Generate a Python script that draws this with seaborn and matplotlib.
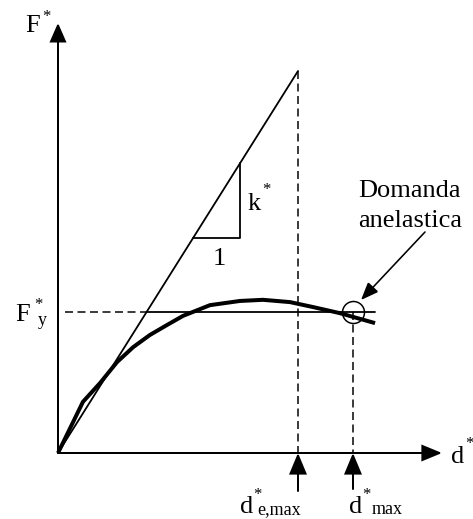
import numpy as np
import pandas as pd
import matplotlib
matplotlib.use("Agg")
import matplotlib.pyplot as plt
import seaborn as sns
from matplotlib.patches import FancyArrowPatch

# ---------------- data (d*, F*) in arbitrary units ----------------
curve_d = [0.0, 1.04, 1.75, 2.46, 3.13, 3.83, 4.54, 5.21, 6.33, 7.58, 8.54, 9.67, 10.63, 11.75, 13.21]
curve_F = [0.0, 1.34, 1.83, 2.38, 2.77, 3.09, 3.35, 3.59, 3.87, 3.98, 4.01, 3.95, 3.82, 3.66, 3.40]
k_star = 1.0          # elastic stiffness
F_y = 3.69            # yield force of bilinear system
d_e_max = 10.0        # elastic displacement demand
d_max = 12.29         # inelastic displacement demand
d_end = 13.21         # end of the bilinear plateau
tri_d0 = 5.63         # start of the slope triangle
tri_run = 1.95        # run of the slope triangle
d_dash_start = 0.3    # start of the F*y dashed guide

d_y = F_y / k_star
F_e_max = k_star * d_e_max

# ---------------- figure / pixel mapping ----------------
W, H = 473, 519
OX, OY = 58, 453      # origin in pixels
SX, SY = 24.0, 38.2   # pixels per unit

sns.set_theme(style="white")
plt.rcParams["font.family"] = ["Liberation Serif", "DejaVu Serif"]
plt.rcParams["lines.scale_dashes"] = False

fig = plt.figure(figsize=(W / 100, H / 100), dpi=100)
ax = fig.add_axes([0, 0, 1, 1])
ax.set_xlim(-OX / SX, (W - OX) / SX)
ax.set_ylim((OY - H) / SY, OY / SY)
ax.axis("off")


def P(px, py):
    """layout position given in pixels -> axes data coords"""
    return ((px - OX) / SX, (OY - py) / SY)


PT = 0.72  # points per pixel
dash = (0, (8 * PT, 4.5 * PT))

# capacity curve (thick)
sns.lineplot(x=curve_d, y=curve_F, sort=False, estimator=None, color="black",
             linewidth=4 * PT, ax=ax, solid_joinstyle="round", solid_capstyle="butt")

# elastic line
sns.lineplot(x=[0.0, d_e_max], y=[0.0, F_e_max], sort=False, estimator=None,
             color="black", linewidth=1.8 * PT, ax=ax)

# bilinear plateau
sns.lineplot(x=[d_y, d_end], y=[F_y, F_y], sort=False, estimator=None,
             color="black", linewidth=1.8 * PT, ax=ax)

# dashed F*y guide
sns.lineplot(x=[d_dash_start, d_y], y=[F_y, F_y], sort=False, estimator=None,
             color="black", linewidth=1.5 * PT, linestyle=dash, ax=ax)

# dashed verticals
sns.lineplot(x=[d_e_max, d_e_max], y=[F_e_max, 0.0], sort=False, estimator=None,
             color="black", linewidth=1.5 * PT, linestyle=dash, ax=ax)
sns.lineplot(x=[d_max, d_max], y=[F_y, 0.0], sort=False, estimator=None,
             color="black", linewidth=1.5 * PT, linestyle=dash, ax=ax)

# slope triangle
tri_d = [tri_d0, tri_d0 + tri_run, tri_d0 + tri_run]
tri_F = [k_star * tri_d0, k_star * tri_d0, k_star * (tri_d0 + tri_run)]
sns.lineplot(x=tri_d, y=tri_F, sort=False, estimator=None,
             color="black", linewidth=1.8 * PT, ax=ax)

# circle at the inelastic demand
sns.lineplot(x=[d_max], y=[F_y], sort=False, estimator=None, color="black",
             marker="o", markersize=22 * PT, markerfacecolor="none",
             markeredgecolor="black", markeredgewidth=1.5 * PT, linewidth=0, ax=ax)


def arrow(start, end, hl, hw, lw):
    a = FancyArrowPatch(start, end,
                        arrowstyle=f"-|>,head_length={hl * PT},head_width={hw * PT}",
                        mutation_scale=1, color="black", linewidth=lw * PT,
                        shrinkA=0, shrinkB=0, joinstyle="miter")
    ax.add_patch(a)


# axes arrows
arrow(P(58, 453), P(58, 23), 16, 7, 2)
arrow(P(58, 453), P(442, 453), 17, 7, 2)

# arrows pointing at displacements
arrow(P(298, 491), (d_e_max, 0.0), 18, 7.5, 2)
arrow(P(353, 489), (d_max, 0.0), 18, 7.5, 2)

# annotation arrow
arrow(P(425, 232), P(361, 300), 15, 6, 1.6)

# ---------------- texts ----------------
BIG, STAR, SUB = 19, 12, 13


def txt(px, py, s, size, ha="left"):
    x, y = P(px, py)
    ax.text(x, y, s, fontsize=size, ha=ha, va="baseline", color="black")


# F* (axis label)
txt(25, 32, "F", BIG)
txt(42, 21, "*", STAR)
# F*y
txt(15, 321, "F", BIG)
txt(34, 309, "*", STAR)
txt(38, 325, "y", SUB)
# k*
txt(248, 210, "k", BIG)
txt(262, 194, "*", STAR)
# 1
txt(219, 265, "1", BIG, ha="center")
# d* axis label
txt(451, 463, "d", BIG)
txt(465, 448, "*", STAR)
# d*e,max
txt(240, 513, "d", BIG)
txt(253, 499, "*", STAR)
txt(257, 514, "e,max", SUB)
# d*max
txt(349, 513, "d", BIG)
txt(362, 499, "*", STAR)
txt(372, 514, "max", SUB)
# Domanda anelastica
txt(409, 197, "Domanda", BIG, ha="center")
txt(410, 227, "anelastica", BIG, ha="center")

fig.savefig("out.png", dpi=100, facecolor="white")
